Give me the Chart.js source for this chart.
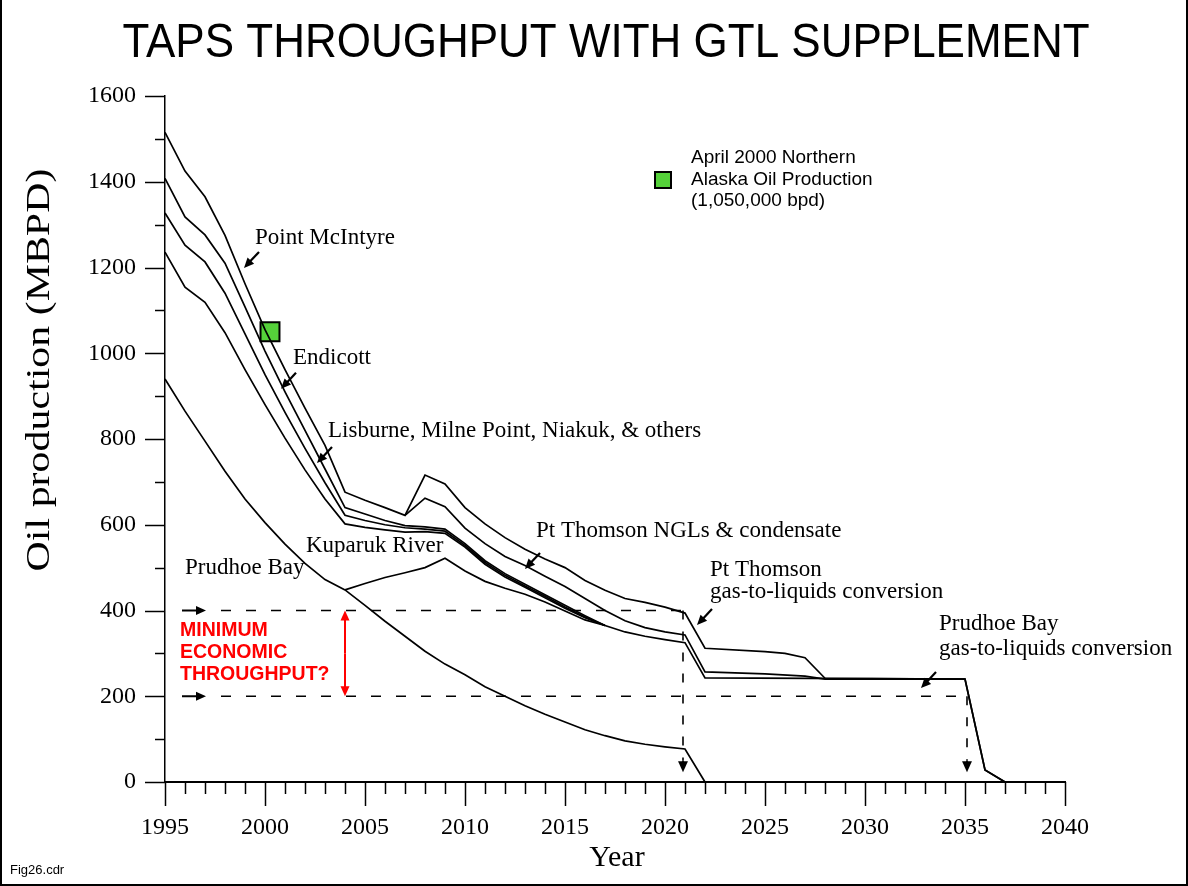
<!DOCTYPE html>
<html>
<head>
<meta charset="utf-8">
<title>TAPS Throughput with GTL Supplement</title>
<script src="https://cdn.jsdelivr.net/npm/chart.js@4.4.0/dist/chart.umd.min.js"></script>
<style>
html,body{margin:0;padding:0;background:#fff;}
#wrap{width:1188px;height:886px;}
</style>
</head>
<body>
<div id="wrap"><canvas id="canvas" width="1188" height="886"></canvas></div>
<script>
// values (MBPD)
var prudhoeYears = [1995,1996,1997,1998,1999,2000,2001,2002,2003,2004,2005,2006,2007,2008,2009,2010,2011,2012,2013,2014,2015,2016,2017,2018,2019,2020,2021,2022];
var prudhoeValues = [940,865,795,725,660,605,555,510,472,448,412,375,340,305,275,250,222,200,178,158,140,122,108,96,88,82,77,0];

var branchYears = [2004,2005,2006,2007,2008,2009,2010,2011,2012,2013,2014,2015,2016,2017];
var branchValues = [448,463,477,488,500,522,492,468,452,438,420,399,378,365];

var kuparukYears = [1995,1996,1997,1998,1999,2000,2001,2002,2003,2004,2005,2006,2007,2008,2009,2010,2011,2012,2013,2014,2015,2016,2017];
var kuparukValues = [1236,1154,1119,1048,962,880,802,728,660,602,594,588,583,584,580,548,508,478,454,430,405,383,365];

var lisburneYears = [1995,1996,1997,1998,1999,2000,2001,2002,2003,2004,2005,2006,2007,2008,2009,2010,2011,2012,2013,2014,2015,2016,2017];
var lisburneValues = [1327,1252,1213,1140,1045,950,862,778,698,622,610,600,593,590,585,552,512,482,457,433,408,385,365];

var endicottYears = [1995,1996,1997,1998,1999,2000,2001,2002,2003,2004,2005,2006,2007,2008,2009,2010,2011,2012,2013,2014,2015,2016,2017,2018,2019,2020,2021,2022,2035,2036,2037];
var endicottValues = [1408,1318,1276,1210,1108,1005,910,820,730,640,625,610,598,595,590,556,516,486,461,437,412,388,365,350,340,332,325,243,240,28,0];

var mcintyreYears = [1995,1996,1997,1998,1999,2000,2001,2002,2003,2004,2005,2006,2007,2008,2009,2010,2011,2012,2013,2014,2015,2016,2017,2018,2019,2020,2021,2022,2025,2026,2027,2028,2035,2036,2037];
var mcintyreValues = [1515,1425,1365,1275,1162,1055,962,872,785,676,657,640,622,716,695,640,602,570,543,520,500,470,447,428,419,408,394,312,304,300,290,242,240,28,0];

var ptThomsonYears = [2007,2008,2009,2010,2011,2012,2013,2014,2015,2016,2017,2018,2019,2020,2021,2022,2025,2027,2028,2035];
var ptThomsonValues = [622,662,642,592,556,526,505,480,456,428,400,376,360,350,343,257,252,247,240,240];

// April 2000 actual production
var aprilYear = [2000.25];
var aprilValue = [1050];

// minimum economic throughput band
var minHighYears = [1997.8,2020.9];
var minHighValues = [400,400];
var minLowYears = [1997.8,2035.1];
var minLowValues = [200,200];
var dropAYears = [2020.9,2020.9];
var dropAValues = [400,50];
var dropBYears = [2035.1,2035.1];
var dropBValues = [200,50];

var yearTicks = [1995,2000,2005,2010,2015,2020,2025,2030,2035,2040];
var valueTicks = [0,200,400,600,800,1000,1200,1400,1600];

var serif = "'Liberation Serif','DejaVu Serif',serif";
var sans = "'Liberation Sans',Arial,sans-serif";

function points(years, values){
	var pts=[];
	for (var i=0;i<years.length;i++){
		pts.push({x:years[i], y:values[i]});
	}
	return pts;
}
function solid(label, years, values){
	return {label:label, data:points(years,values), borderColor:'#000', borderWidth:1.7,
		pointRadius:0, fill:false, tension:0, clip:false};
}
function dashed(label, years, values, dash){
	var d = solid(label, years, values);
	d.borderWidth = 1.6;
	d.borderDash = dash;
	return d;
}

// text labels and pointer arrows, placed in data units
var notes = [
	{text:'Point McIntyre', year:1999.5, value:1255},
	{text:'Endicott', year:2001.4, value:975},
	{text:'Lisburne, Milne Point, Niakuk, & others', year:2003.15, value:805},
	{text:'Pt Thomson NGLs & condensate', year:2013.55, value:572},
	{text:'Kuparuk River', year:2002.05, value:537},
	{text:'Prudhoe Bay', year:1996, value:485},
	{text:'Pt Thomson', year:2022.25, value:480},
	{text:'gas-to-liquids conversion', year:2022.25, value:430},
	{text:'Prudhoe Bay', year:2033.7, value:355},
	{text:'gas-to-liquids conversion', year:2033.7, value:296}
];
var pointers = [
	{year:1998.95, value:1199},
	{year:2000.8, value:917},
	{year:2002.6, value:744},
	{year:2013.0, value:497},
	{year:2021.6, value:366},
	{year:2032.8, value:219}
];
var redNote = ['MINIMUM','ECONOMIC','THROUGHPUT?'];
var legendLines = ['April 2000 Northern','Alaska Oil Production','(1,050,000 bpd)'];

function arrow(ctx,x1,y1,x2,y2,color,width,head){
	var a=Math.atan2(y2-y1,x2-x1);
	ctx.save();
	ctx.strokeStyle=color; ctx.fillStyle=color; ctx.lineWidth=width;
	ctx.beginPath();
	ctx.moveTo(x1,y1);
	ctx.lineTo(x2-Math.cos(a)*head*0.8, y2-Math.sin(a)*head*0.8);
	ctx.stroke();
	ctx.beginPath();
	ctx.moveTo(x2,y2);
	ctx.lineTo(x2-head*Math.cos(a)+head*0.45*Math.sin(a), y2-head*Math.sin(a)-head*0.45*Math.cos(a));
	ctx.lineTo(x2-head*Math.cos(a)-head*0.45*Math.sin(a), y2-head*Math.sin(a)+head*0.45*Math.cos(a));
	ctx.closePath();
	ctx.fill();
	ctx.restore();
}

var annotate = {
	id:'annotate',
	afterDraw:function(chart){
		var ctx=chart.ctx;
		var xs=chart.scales.x, ys=chart.scales.y;
		var area=chart.chartArea;
		function px(v){ return xs.getPixelForValue(v); }
		function py(v){ return ys.getPixelForValue(v); }

		ctx.save();
		// tick marks, major and minor
		ctx.strokeStyle='#000'; ctx.lineWidth=1.5;
		for (var yr=1995; yr<=2040; yr++){
			var x=Math.round(px(yr))+0.5;
			var len=(yr%5===0)?24:12;
			ctx.beginPath(); ctx.moveTo(x,area.bottom); ctx.lineTo(x,area.bottom+len); ctx.stroke();
		}
		for (var v=0; v<=1600; v+=100){
			var y=Math.round(py(v))+0.5;
			var len2=(v%200===0)?20:10;
			ctx.beginPath(); ctx.moveTo(area.left-len2,y); ctx.lineTo(area.left,y); ctx.stroke();
		}

		// title
		ctx.fillStyle='#000';
		ctx.save();
		ctx.translate(606,44);
		ctx.scale(1,1.1);
		ctx.font='44px '+sans;
		ctx.textAlign='center'; ctx.textBaseline='middle';
		ctx.fillText('TAPS THROUGHPUT WITH GTL SUPPLEMENT',0,0);
		ctx.restore();

		// axis titles
		ctx.save();
		ctx.translate(40,370);
		ctx.rotate(-Math.PI/2);
		ctx.scale(1.27,1);
		ctx.font='33px '+serif;
		ctx.textAlign='center'; ctx.textBaseline='middle';
		ctx.fillText('Oil production (MBPD)',0,0);
		ctx.restore();
		ctx.font='30px '+serif;
		ctx.textAlign='center'; ctx.textBaseline='alphabetic';
		ctx.fillText('Year',617,866);

		// labels on the curves
		ctx.font='23px '+serif;
		ctx.textAlign='left'; ctx.textBaseline='alphabetic';
		for (var i=0;i<notes.length;i++){
			ctx.fillText(notes[i].text, px(notes[i].year), py(notes[i].value));
		}
		for (var j=0;j<pointers.length;j++){
			var tx=px(pointers[j].year), ty=py(pointers[j].value);
			arrow(ctx, tx+15, ty-16, tx, ty, '#000', 2.2, 10);
		}

		// minimum throughput markers
		arrow(ctx, px(1995.85), py(400), px(1997.05), py(400), '#000', 2, 10);
		arrow(ctx, px(1995.85), py(200), px(1997.05), py(200), '#000', 2, 10);
		arrow(ctx, px(2004), py(300), px(2004), py(400), '#f00', 2, 10);
		arrow(ctx, px(2004), py(300), px(2004), py(200), '#f00', 2, 10);
		arrow(ctx, px(2020.9), py(50), px(2020.9), py(23), '#000', 1.8, 11);
		arrow(ctx, px(2035.1), py(50), px(2035.1), py(23), '#000', 1.8, 11);
		ctx.fillStyle='#f00';
		ctx.font='bold 19.5px '+sans;
		ctx.textBaseline='middle';
		for (var k=0;k<redNote.length;k++){
			ctx.fillText(redNote[k], 180, 631+k*22);
		}

		// legend
		ctx.fillStyle='#55d13a';
		ctx.fillRect(655,172,16,16);
		ctx.strokeStyle='#000'; ctx.lineWidth=2;
		ctx.strokeRect(655,172,16,16);
		ctx.fillStyle='#000';
		ctx.font='19px '+sans;
		ctx.textBaseline='middle';
		for (var m=0;m<legendLines.length;m++){
			ctx.fillText(legendLines[m], 691, 158+m*21.5);
		}

		ctx.font='13px '+sans;
		ctx.fillText('Fig26.cdr', 10, 870);

		// frame
		ctx.lineWidth=2;
		ctx.beginPath();
		ctx.moveTo(1,0); ctx.lineTo(1,885); ctx.lineTo(1187,885); ctx.lineTo(1187,0);
		ctx.stroke();
		ctx.restore();
	}
};

var config = {};
config['type']='line';
config['data']={datasets:[
	solid('Prudhoe Bay', prudhoeYears, prudhoeValues),
	solid('Prudhoe Bay satellites', branchYears, branchValues),
	solid('Kuparuk River', kuparukYears, kuparukValues),
	solid('Lisburne, Milne Point, Niakuk, & others', lisburneYears, lisburneValues),
	solid('Endicott', endicottYears, endicottValues),
	solid('Point McIntyre', mcintyreYears, mcintyreValues),
	solid('Pt Thomson NGLs & condensate', ptThomsonYears, ptThomsonValues),
	dashed('400', minHighYears, minHighValues, [10,15]),
	dashed('200', minLowYears, minLowValues, [10,15]),
	dashed('drop 2021', dropAYears, dropAValues, [9,12]),
	dashed('drop 2035', dropBYears, dropBValues, [9,12]),
	{label:'April 2000', data:points(aprilYear,aprilValue), showLine:false, pointStyle:'rect',
		pointRadius:13.4, pointBackgroundColor:'#55d13a', pointBorderColor:'#000', pointBorderWidth:2, clip:false}
]};
config['options']={
	responsive:false,
	animation:false,
	layout:{padding:{left:0,right:123,top:96,bottom:0}},
	plugins:{legend:{display:false}, tooltip:{enabled:false}, title:{display:false}},
	scales:{
		x:{type:'linear', min:1995, max:2040,
			afterBuildTicks:function(s){ s.ticks=yearTicks.map(function(t){return {value:t};}); },
			ticks:{color:'#000', font:{family:serif, size:24}, padding:31, maxRotation:0,
				callback:function(v){ return String(v); }},
			grid:{display:false, drawTicks:false},
			border:{display:true, color:'#000', width:2},
			afterFit:function(s){ s.height=104; }
		},
		y:{min:0, max:1600,
			afterBuildTicks:function(s){ s.ticks=valueTicks.map(function(t){return {value:t};}); },
			ticks:{color:'#000', font:{family:serif, size:24}, padding:29,
				callback:function(v){ return String(v); }},
			grid:{display:false, drawTicks:false},
			border:{display:true, color:'#000', width:1.5},
			afterFit:function(s){ s.width=165; }
		}
	}
};
config['plugins']=[annotate];

var ctx = document.getElementById('canvas').getContext('2d');
window.myLine = new Chart(ctx, config);
</script>
</body>
</html>
